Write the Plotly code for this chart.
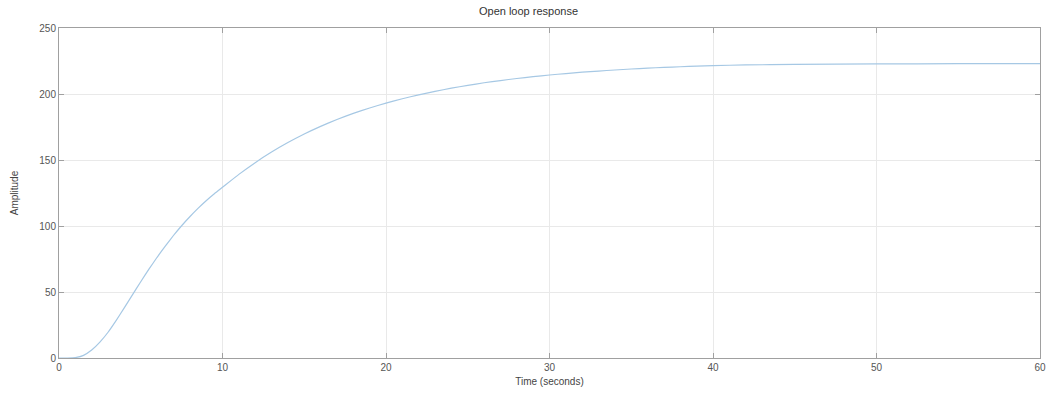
import plotly.graph_objects as go

# Step response samples: time (s) and amplitude
time_s = [0, 0.5, 1.0, 1.5, 2.0, 2.5, 3.0, 3.5, 4.0, 4.5, 5.0, 5.5, 6.0, 6.5, 7.0,
          7.5, 8.0, 8.5, 9.0, 9.5, 10, 11, 12, 13, 14, 15, 16, 17, 18, 19, 20,
          21, 22, 23, 24, 25, 26, 27, 28, 29, 30,
          31, 32, 33, 34, 35, 36, 37, 38, 39, 40, 42, 45, 50, 55, 60]
amplitude = [0, 0, 0.3, 2, 6, 12, 19.5, 28.5, 38.2, 48, 57.8, 67.3, 76.3, 84.8, 92.8,
             100.2, 107, 113.3, 119.1, 124.4, 129.3, 139.1, 148.0, 156.0, 163.2, 169.7,
             175.5, 180.7, 185.3, 189.4, 193.1,
             196.4, 199.35, 202.0, 204.4, 206.55, 208.5, 210.2, 211.75, 213.15, 214.4,
             215.5, 216.5, 217.4, 218.2, 218.95, 219.6, 220.15, 220.65, 221.1, 221.5,
             222.0, 222.4, 222.8, 222.95, 223.0]

x_ticks = [0, 10, 20, 30, 40, 50, 60]
y_ticks = [0, 50, 100, 150, 200, 250]

fig = go.Figure()
fig.add_trace(go.Scatter(
    x=time_s, y=amplitude, mode="lines",
    line=dict(color="#a6c8e4", width=1.2, shape="spline", smoothing=0.4),
    showlegend=False, hoverinfo="skip",
))

axis_common = dict(
    showline=True, linecolor="#a0a0a0", linewidth=1, mirror="ticks",
    ticks="inside", ticklen=5, tickcolor="#a0a0a0",
    showgrid=True, gridcolor="#e9e9e9", gridwidth=1, zeroline=False,
    tickfont=dict(family="Liberation Sans, Arial", size=10, color="#555555"),
)

fig.update_layout(
    width=1057, height=396,
    margin=dict(l=59, r=11, t=28, b=35),
    paper_bgcolor="white", plot_bgcolor="white",
    title=dict(text="Open loop response", x=0.5, xanchor="center", y=0.982, yanchor="top",
               font=dict(family="Liberation Sans, Arial", size=11, color="#333333")),
    xaxis=dict(range=[0, 60], tickvals=x_ticks,
               title=dict(text="Time (seconds)", standoff=5,
                          font=dict(family="Liberation Sans, Arial", size=10, color="#444444")),
               **axis_common),
    yaxis=dict(range=[0, 250], tickvals=y_ticks,
               title=dict(text="Amplitude", standoff=18,
                          font=dict(family="Liberation Sans, Arial", size=10, color="#444444")),
               **axis_common),
)

fig.write_html("out.html")
